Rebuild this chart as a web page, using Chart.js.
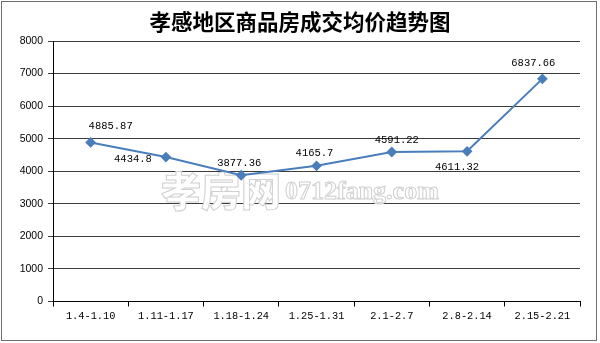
<!DOCTYPE html>
<html>
<head>
<meta charset="utf-8">
<script src="https://cdn.jsdelivr.net/npm/chart.js@4/dist/chart.umd.min.js"></script>
<style>
  html, body { margin: 0; padding: 0; background: #fff; }
  #wrap { width: 600px; height: 343px; }
</style>
</head>
<body>
<div id="wrap"><canvas id="c" width="600" height="343"></canvas></div>
<script>
// ---- data ----
const titleText = "孝感地区商品房成交均价趋势图";
const categories = ["1.4-1.10", "1.11-1.17", "1.18-1.24", "1.25-1.31", "2.1-2.7", "2.8-2.14", "2.15-2.21"];
const avgPrice = [4885.87, 4434.8, 3877.36, 4165.7, 4591.22, 4611.32, 6837.66];
const priceLabels = ["4885.87", "4434.8", "3877.36", "4165.7", "4591.22", "4611.32", "6837.66"];
const yTickMin = 0, yTickMax = 8000, yTickStep = 1000;
const watermarkCn = "孝房网";
const watermarkEn = "0712fang.com";

// label placement offsets relative to each point (style only)
const labelDx = [20, -33, -2, -2, 5, -10, -9];
const labelDy = [-16, 2, -12, -12.5, -12, 15.5, -16];

const lineColor = "#4A7EBB";
const monoFont = '"Liberation Mono", "DejaVu Sans Mono", monospace';

const frame = {
  id: "frame",
  beforeDraw(chart) {
    const ctx = chart.ctx;
    ctx.save();
    ctx.fillStyle = "#fff";
    ctx.fillRect(0, 0, chart.width, chart.height);
    ctx.strokeStyle = "#6e6e6e";
    ctx.lineWidth = 1;
    ctx.strokeRect(1.5, 1.5, 595, 339);
    ctx.restore();
  },
  beforeDatasetsDraw(chart) {
    const ctx = chart.ctx;
    ctx.save();
    ctx.textBaseline = "middle";
    ctx.textAlign = "left";
    ctx.lineWidth = 1;
    ctx.strokeStyle = "#cfcfcf";
    ctx.fillStyle = "#ffffff";
    ctx.font = '900 40px "Noto Sans CJK SC"';
    ctx.fillText(watermarkCn, 161, 191);
    ctx.strokeText(watermarkCn, 161, 191);
    ctx.font = 'bold 26px "Liberation Serif", serif';
    ctx.fillText(watermarkEn, 285, 192);
    ctx.strokeText(watermarkEn, 285, 192);
    ctx.restore();
  },
  afterDatasetsDraw(chart) {
    const ctx = chart.ctx;
    const meta = chart.getDatasetMeta(0);
    ctx.save();
    ctx.font = "10.5px " + monoFont;
    ctx.fillStyle = "#000";
    ctx.textAlign = "center";
    ctx.textBaseline = "middle";
    meta.data.forEach((pt, i) => {
      ctx.fillText(priceLabels[i], pt.x + labelDx[i], pt.y + labelDy[i]);
    });
    ctx.restore();
  },
  afterDraw(chart) {
    const ctx = chart.ctx;
    ctx.save();
    ctx.font = 'bold 21.5px "Noto Sans CJK SC"';
    ctx.fillStyle = "#000";
    ctx.textAlign = "center";
    ctx.textBaseline = "middle";
    ctx.fillText(titleText, 300, 22);
    ctx.restore();
  }
};

new Chart(document.getElementById("c"), {
  type: "line",
  data: {
    labels: categories,
    datasets: [{
      data: avgPrice,
      borderColor: lineColor,
      backgroundColor: lineColor,
      borderWidth: 2,
      pointStyle: "rectRot",
      pointRadius: 4,
      pointBackgroundColor: lineColor,
      pointBorderColor: lineColor,
      tension: 0,
      fill: false
    }]
  },
  options: {
    responsive: false,
    animation: false,
    devicePixelRatio: 1,
    layout: { padding: { top: 41, right: 20, bottom: 0, left: 0 } },
    plugins: {
      legend: { display: false },
      title: { display: false },
      tooltip: { enabled: false }
    },
    scales: {
      x: {
        type: "category",
        offset: true,
        afterFit(scale) { scale.height = 41.5; },
        grid: {
          offset: true,
          drawOnChartArea: false,
          drawTicks: true,
          tickLength: 5,
          color: "#000"
        },
        border: { display: true, color: "#000", width: 1 },
        ticks: {
          color: "#000",
          padding: 4,
          maxRotation: 0,
          autoSkip: false,
          font: { family: monoFont, size: 10.3 }
        }
      },
      y: {
        min: yTickMin,
        max: yTickMax,
        afterFit(scale) { scale.width = 53; },
        grid: {
          color: "#3c3c3c",
          lineWidth: 1,
          drawTicks: true,
          tickLength: 5
        },
        border: { display: true, color: "#000", width: 1 },
        ticks: {
          stepSize: yTickStep,
          color: "#000",
          padding: 5,
          callback: (v) => String(v),
          font: { family: '"Liberation Sans", Arial, sans-serif', size: 10.5 }
        }
      }
    }
  },
  plugins: [frame]
});
</script>
</body>
</html>
